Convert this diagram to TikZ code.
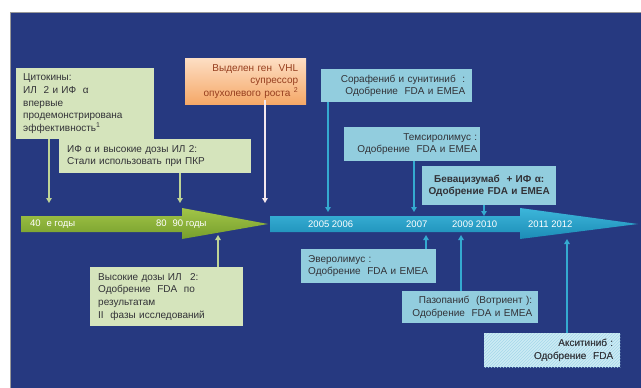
\documentclass[tikz,border=0pt]{standalone}
\usepackage{fontspec}
\setmainfont{Liberation Sans}
\usetikzlibrary{arrows.meta,patterns}
\definecolor{bgblue}{RGB}{38,57,128}
\definecolor{boxgreen}{RGB}{213,228,188}
\definecolor{boxcyan}{RGB}{146,205,222}
\definecolor{boxhatch}{RGB}{205,235,244}
\definecolor{hatchline}{RGB}{165,216,234}
\definecolor{txt}{RGB}{50,50,55}
\definecolor{orangetxt}{RGB}{150,62,30}
\definecolor{linegreen}{RGB}{190,212,150}
\definecolor{linecyan}{RGB}{52,170,208}
\definecolor{linepink}{RGB}{244,232,238}
\tikzset{
  box/.style={anchor=north west, inner ysep=0pt, text=txt, font=\fontsize{10}{12.6}\selectfont},
  gbox/.style={box, fill=boxgreen},
  cbox/.style={box, fill=boxcyan},
  yearlbl/.style={text=white, font=\fontsize{9.5}{11}\selectfont, inner sep=0pt, anchor=west},
  conn/.style={line width=1.7pt, -{Triangle[width=5.5pt,length=5pt]}},
}
\begin{document}
\begin{tikzpicture}[x=1pt,y=-1pt]
\useasboundingbox (0,0) rectangle (641,388);
\fill[white] (0,0) rectangle (641,388);
\fill[bgblue] (10,12) rectangle (641,388);
\draw[gray!80, line width=1pt] (10,388) -- (10,12) -- (641,12);

% timeline arrows
\shade[top color={rgb,255:red,162;green,197;blue,72}, bottom color={rgb,255:red,118;green,158;blue,44}]
  (21,216) -- (182,216) -- (182,208) -- (268,224) -- (182,239) -- (182,232) -- (21,232) -- cycle;
\shade[top color={rgb,255:red,60;green,182;blue,218}, bottom color={rgb,255:red,28;green,140;blue,182}]
  (270,216) -- (520,216) -- (520,208) -- (638,224) -- (520,239) -- (520,232) -- (270,232) -- cycle;

\node[yearlbl] (y1) at (30,224) {40\,\, е годы};
\node[yearlbl] (y2) at (156,224) {80\,\, 90 годы};
\node[yearlbl] (y3) at (308,224) {2005 2006};
\node[yearlbl] (y4) at (406,224) {2007};
\node[yearlbl] (y5) at (452,224) {2009 2010};
\node[yearlbl] (y6) at (528,224) {2011 2012};

% boxes
\node[gbox, minimum width=138pt, minimum height=71pt, inner xsep=7pt, text width=124pt, align=left] (b1) at (16,68)
  {Цитокины:\\ИЛ\,\, 2 и ИФ\,\, α\\впервые\\продемонстрирована\\эффективность\textsuperscript{1}};
\node[gbox, minimum width=192pt, minimum height=34pt, inner xsep=8pt, text width=176pt, align=left] (b2) at (59,139)
  {ИФ α и высокие дозы ИЛ 2:\\Стали использовать при ПКР};
\node[box, top color={rgb,255:red,253;green,222;blue,196}, bottom color={rgb,255:red,245;green,168;blue,104},
  text=orangetxt, minimum width=121pt, minimum height=46pt, inner xsep=8pt, text width=105pt, align=right] (b3) at (185,58)
  {Выделен ген\,\, VHL\\супрессор\\опухолевого роста \textsuperscript{2}};
\node[cbox, minimum width=151pt, minimum height=33pt, inner xsep=7pt, text width=137pt, align=right] (b4) at (321,69)
  {Сорафениб и сунитиниб\,\, :\\Одобрение\,\, FDA и EMEA};
\node[cbox, minimum width=136pt, minimum height=34pt, inner xsep=3pt, text width=130pt, align=right] (b5) at (344,127)
  {Темсиролимус :\\Одобрение\,\, FDA и EMEA\hspace{11pt}};
\node[cbox, minimum width=134pt, minimum height=39pt, inner xsep=4pt, text width=126pt, align=center, font=\bfseries\fontsize{10}{12.6}\selectfont] (b6) at (422,166)
  {Бевацизумаб\,\, + ИФ α:\\Одобрение FDA и EMEA};
\node[gbox, minimum width=153pt, minimum height=59pt, inner xsep=8pt, text width=137pt, align=left] (b7) at (90,267)
  {Высокие дозы ИЛ\,\,\, 2:\\Одобрение\,\, FDA\,\, по\\результатам\\II\,\, фазы исследований};
\node[cbox, minimum width=135pt, minimum height=34pt, inner xsep=7pt, text width=121pt, align=left] (b8) at (301,249)
  {Эверолимус :\\Одобрение\,\, FDA и EMEA};
\node[cbox, minimum width=136pt, minimum height=32pt, inner xsep=6pt, text width=124pt, align=right] (b9) at (402,291)
  {Пазопаниб\,\, (Вотриент ):\\Одобрение\,\, FDA и EMEA};
\node[box, fill=boxhatch, minimum width=136pt, minimum height=34pt, inner xsep=7pt, text width=122pt, align=right] (b10) at (484,333)
  {Акситиниб :\\Одобрение\,\, FDA};
\fill[pattern={north east lines}, pattern color=hatchline] (b10.north west) rectangle (b10.south east);
\node[box, minimum width=136pt, minimum height=34pt, inner xsep=7pt, text width=122pt, align=right] at (484,333)
  {Акситиниб :\\Одобрение\,\, FDA};

% connector end points on the timeline
\coordinate (t1) at (49,203);
\coordinate (t2) at (180,203);
\coordinate (t3) at (265,203);
\coordinate (t4) at (218,235);
\coordinate (t5) at (328,212);
\coordinate (t6) at (414,212);
\coordinate (t7) at (484,216);
\coordinate (t8) at (426,235);
\coordinate (t9) at (461,235);
\coordinate (t10) at (567,239);

\draw[conn, linegreen] (t1 |- b1.south) -- (t1);
\draw[conn, linegreen] (t2 |- b2.south) -- (t2);
\draw[conn, linepink] ([yshift=4pt]t3 |- b3.south) -- (t3);
\draw[conn, linegreen] (t4 |- b7.north) -- (t4);
\draw[conn, linecyan] (t5 |- b4.south) -- (t5);
\draw[conn, linecyan] (t6 |- b5.south) -- (t6);
\draw[conn, linecyan] (t7 |- b6.south) -- (t7);
\draw[conn, linecyan] (t8 |- b8.north) -- (t8);
\draw[conn, linecyan] (t9 |- b9.north) -- (t9);
\draw[conn, linecyan] (t10 |- b10.north) -- (t10);
\end{tikzpicture}
\end{document}
